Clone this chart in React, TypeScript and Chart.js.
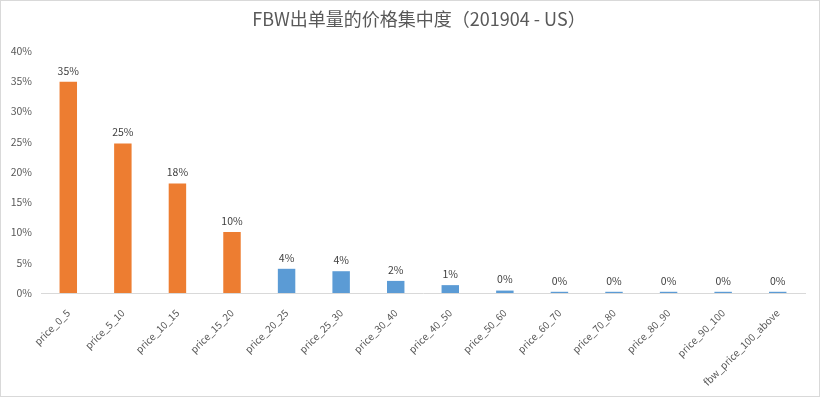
import React, { useEffect, useRef } from "react";
import { Chart, registerables } from "chart.js";

Chart.register(...registerables);

const categories = [
  "price_0_5",
  "price_5_10",
  "price_10_15",
  "price_15_20",
  "price_20_25",
  "price_25_30",
  "price_30_40",
  "price_40_50",
  "price_50_60",
  "price_60_70",
  "price_70_80",
  "price_80_90",
  "price_90_100",
  "fbw_price_100_above",
];
const shares = [0.349, 0.247, 0.181, 0.101, 0.04, 0.036, 0.02, 0.013, 0.004, 0.002, 0.002, 0.002, 0.002, 0.002];
const barColors = [
  "#ED7D31", "#ED7D31", "#ED7D31", "#ED7D31",
  "#5B9BD5", "#5B9BD5", "#5B9BD5", "#5B9BD5", "#5B9BD5", "#5B9BD5",
  "#5B9BD5", "#5B9BD5", "#5B9BD5", "#5B9BD5",
];
const yTicks = [0, 0.05, 0.1, 0.15, 0.2, 0.25, 0.3, 0.35, 0.4];
const titleText = "FBW出单量的价格集中度（201904 - US）";

const FONT = "'Noto Sans CJK SC', 'Noto Sans', sans-serif";

const labelPlugin = {
  id: "barLabels",
  afterDatasetsDraw(chart: any) {
    const ctx = chart.ctx;
    const meta = chart.getDatasetMeta(0);
    ctx.save();
    ctx.fillStyle = "#404040";
    ctx.font = `10.5px ${FONT}`;
    ctx.textAlign = "center";
    ctx.textBaseline = "bottom";
    meta.data.forEach((bar: any, i: number) => {
      const v = shares[i];
      ctx.fillText(Math.round(v * 100) + "%", bar.x, bar.y - 6);
    });
    // title
    ctx.fillStyle = "#595959";
    ctx.font = `18px ${FONT}`;
    ctx.textBaseline = "middle";
    ctx.fillText(titleText, 418, 18);
    ctx.restore();
  },
};

export default function App() {
  const ref = useRef<HTMLCanvasElement>(null);
  useEffect(() => {
    if (!ref.current) return;
    const chart = new Chart(ref.current, {
      type: "bar",
      data: {
        labels: categories,
        datasets: [
          {
            data: shares,
            backgroundColor: barColors,
            barPercentage: 0.32,
            categoryPercentage: 1,
          },
        ],
      },
      options: {
        animation: false,
        responsive: false,
        layout: { padding: { left: 0, right: 14, top: 50, bottom: 1 } },
        plugins: {
          legend: { display: false },
          tooltip: { enabled: false },
          title: { display: false },
        },
        scales: {
          x: {
            grid: { display: false },
            border: { display: true, color: "#D9D9D9" },
            afterFit(axis: any) {
              axis.height = 102;
            },
            ticks: {
              color: "#595959",
              font: { family: FONT, size: 10 },
              minRotation: 45,
              maxRotation: 45,
              autoSkip: false,
              padding: 6,
            },
          },
          y: {
            min: 0,
            max: 0.4,
            afterBuildTicks(axis: any) {
              axis.ticks = yTicks.map((v) => ({ value: v }));
            },
            afterFit(axis: any) {
              axis.width = 40;
            },
            grid: { display: false, drawTicks: false },
            border: { display: false },
            ticks: {
              color: "#595959",
              font: { family: FONT, size: 10.5 },
              callback: (v: any) => Math.round(Number(v) * 100) + "%",
              padding: 9,
            },
          },
        },
      },
      plugins: [labelPlugin],
    });
    return () => chart.destroy();
  }, []);
  return (
    <div
      style={{
        position: "fixed",
        left: 0,
        top: 0,
        width: 820,
        height: 397,
        background: "#fff",
        boxSizing: "border-box",
        border: "1px solid #D9D9D9",
      }}
    >
      <canvas ref={ref} width={818} height={395} style={{ display: "block" }} />
    </div>
  );
}
